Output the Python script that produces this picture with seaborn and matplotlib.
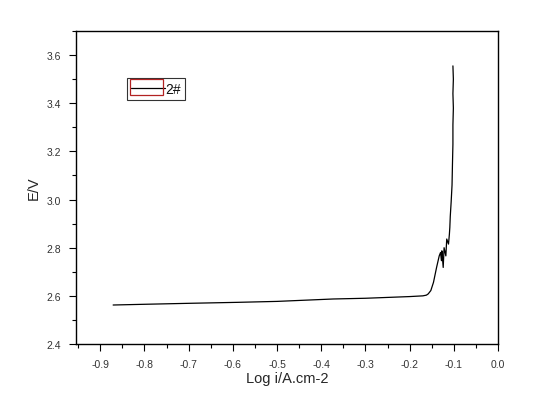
import matplotlib
matplotlib.use("Agg")
import matplotlib.pyplot as plt
import numpy as np
import pandas as pd
import seaborn as sns
from matplotlib.patches import Rectangle
from matplotlib.ticker import MultipleLocator

# polarisation curve, sample 2#
log_i = [-0.871, -0.80, -0.70, -0.591, -0.50, -0.373, -0.30, -0.20, -0.170,
         -0.162, -0.158, -0.152, -0.146, -0.139, -0.133, -0.130, -0.128, -0.127,
         -0.124, -0.122, -0.118, -0.116, -0.112, -0.110, -0.109, -0.108, -0.106,
         -0.104, -0.103, -0.102, -0.102, -0.101, -0.102, -0.101, -0.102]
potential = [2.562, 2.565, 2.569, 2.573, 2.577, 2.587, 2.590, 2.597, 2.600,
             2.603, 2.608, 2.622, 2.656, 2.718, 2.766, 2.780, 2.746, 2.787,
             2.718, 2.800, 2.766, 2.836, 2.815, 2.856, 2.884, 2.930, 2.990,
             3.060, 3.150, 3.230, 3.310, 3.380, 3.440, 3.500, 3.555]

x_ticks = [-0.9, -0.8, -0.7, -0.6, -0.5, -0.4, -0.3, -0.2, -0.1, 0.0]
y_ticks = [2.4, 2.6, 2.8, 3.0, 3.2, 3.4, 3.6]

sns.set_theme(style="white")
plt.rcParams["font.family"] = ["Liberation Sans", "DejaVu Sans"]
plt.rcParams.update({
    "axes.edgecolor": "black",
    "axes.linewidth": 1.0,
    "xtick.color": "black",
    "ytick.color": "black",
    "xtick.labelcolor": "#333333",
    "ytick.labelcolor": "#333333",
})

df = pd.DataFrame({"log_i": log_i, "E": potential})

fig = plt.figure(figsize=(5.41, 4.10), dpi=100)
ax = fig.add_axes([0.1405, 0.1585, 0.78, 0.7635])
sns.lineplot(data=df, x="log_i", y="E", sort=False, color="black", linewidth=0.9,
             estimator=None, ax=ax, label="2#")

ax.set_xlim(-0.955, 0.0)
ax.set_ylim(2.4, 3.7)
ax.set_xticks(x_ticks)
ax.set_xticklabels([f"{v:.1f}" for v in x_ticks])
ax.set_yticks(y_ticks)
ax.set_yticklabels([f"{v:.1f}" for v in y_ticks])
ax.xaxis.set_minor_locator(MultipleLocator(0.05))
ax.yaxis.set_minor_locator(MultipleLocator(0.1))
ax.tick_params(which="major", direction="out", length=5, width=0.8, labelsize=7.5,
               bottom=True, left=True, top=False, right=False, pad=6)
ax.tick_params(which="minor", direction="out", length=3, width=0.8,
               bottom=True, left=True, top=False, right=False)
ax.set_xlabel("Log i/A.cm-2", fontsize=10.5, labelpad=1)
ax.set_ylabel("E/V", fontsize=10.5, labelpad=4)

leg = ax.legend(loc="upper left", bbox_to_anchor=(0.121, 0.850), frameon=True,
                fancybox=False, edgecolor="black", fontsize=10, handlelength=2.4,
                handletextpad=0.05, borderpad=0.3, borderaxespad=0.0)
leg.get_frame().set_linewidth(0.8)
for t in leg.get_texts():
    t.set_color("#111111")

# red selection box drawn around the legend line sample (as in the original export)
ax.add_patch(Rectangle((0.128, 0.796), 0.078, 0.051, transform=ax.transAxes,
                       fill=False, edgecolor="#b22222", linewidth=0.9, zorder=6,
                       clip_on=False))

fig.savefig("out.png", dpi=100)
